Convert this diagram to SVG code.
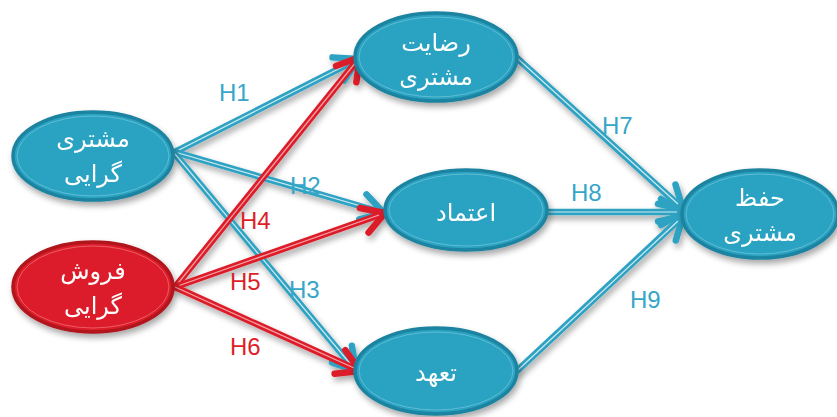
<svg xmlns="http://www.w3.org/2000/svg" width="837" height="417" viewBox="0 0 837 417">
<style>
.nb{fill:#2aa3c2;stroke:#1d84a0;stroke-width:3.5}
.nr{fill:#dc1f2b;stroke:#b0131e;stroke-width:3.5}
.in{fill:none;stroke-width:1}
.inb{stroke:#5fbcd5}
.inr{stroke:#ec5a63}
.t{font-family:"DejaVu Sans","Noto Sans",sans-serif;font-size:24px;fill:#ffffff;text-anchor:middle}
.cb{fill:none;stroke:#2fa2c2;stroke-width:6.5;stroke-linecap:round}
.cr{fill:none;stroke:#dd1f2a;stroke-width:6.5;stroke-linecap:round}
.ci{fill:none;stroke:#cfeaf2;stroke-width:1.2}
.lb{font-family:"Liberation Sans",Arial,sans-serif;font-size:24px;fill:#36a6c8}
.lr{font-family:"Liberation Sans",Arial,sans-serif;font-size:24px;fill:#dd1f2a}
</style>
<defs>
<filter id="sh" x="-20%" y="-20%" width="140%" height="150%">
<feGaussianBlur in="SourceAlpha" stdDeviation="3"/>
<feOffset dx="2" dy="4" result="b"/>
<feComponentTransfer><feFuncA type="linear" slope="0.35"/></feComponentTransfer>
<feMerge><feMergeNode/><feMergeNode in="SourceGraphic"/></feMerge>
</filter>
<marker id="ab" markerUnits="userSpaceOnUse" orient="auto" overflow="visible" refX="0" refY="0" markerWidth="30" markerHeight="30">
<path d="M-22,-13 L0,0 L-22,13" fill="none" stroke="#2fa2c2" stroke-width="6.5" stroke-linecap="round" stroke-linejoin="round"/>
</marker>
<marker id="ar" markerUnits="userSpaceOnUse" orient="auto" overflow="visible" refX="0" refY="0" markerWidth="30" markerHeight="30">
<path d="M-22,-13 L0,0 L-22,13" fill="none" stroke="#dd1f2a" stroke-width="6.5" stroke-linecap="round" stroke-linejoin="round"/>
</marker>
</defs>

<g id="connectors" filter="url(#sh)">
<path class="cb" d="M175,152 L358,59" marker-end="url(#ab)"/>
<path class="ci" d="M175,152 L352,62"/>
<path class="cb" d="M175,152 L384,213" marker-end="url(#ab)"/>
<path class="ci" d="M175,152 L378,211"/>
<path class="cb" d="M175,154 L356,371" marker-end="url(#ab)"/>
<path class="ci" d="M175,154 L352,366"/>
<path class="cb" d="M517,58 L683,209" marker-end="url(#ab)"/>
<path class="ci" d="M517,58 L678,204"/>
<path class="cb" d="M547,212 L683,212" marker-end="url(#ab)"/>
<path class="ci" d="M547,212 L677,212"/>
<path class="cb" d="M518,370 L683,216" marker-end="url(#ab)"/>
<path class="ci" d="M518,370 L678,221"/>
<path class="cr" d="M175,287 L360,57" marker-end="url(#ar)"/>
<path class="ci" d="M175,287 L356,62" style="stroke:#f3a3a8"/>
<path class="cr" d="M175,287 L385,213" marker-end="url(#ar)"/>
<path class="ci" d="M175,287 L379,215" style="stroke:#f3a3a8"/>
<path class="cr" d="M175,287 L360,371" marker-end="url(#ar)"/>
<path class="ci" d="M175,287 L354,368" style="stroke:#f3a3a8"/>
</g>

<g id="labels">
<text class="lb" x="219" y="101">H1</text>
<text class="lb" x="290" y="194">H2</text>
<text class="lb" x="289" y="298">H3</text>
<text class="lr" x="240" y="229">H4</text>
<text class="lr" x="230" y="290">H5</text>
<text class="lr" x="230" y="355">H6</text>
<text class="lb" x="602" y="134">H7</text>
<text class="lb" x="571" y="201">H8</text>
<text class="lb" x="630" y="308">H9</text>
</g>

<g id="n1" filter="url(#sh)">
<ellipse class="nb" cx="93" cy="156" rx="80" ry="44"/>
<ellipse class="in inb" cx="93" cy="156" rx="76" ry="40"/>
<text class="t" x="93" y="147">مشتری</text>
<text class="t" x="93" y="182">گرایی</text>
</g>
<g id="n2" filter="url(#sh)">
<ellipse class="nr" cx="93" cy="287" rx="80" ry="45"/>
<ellipse class="in inr" cx="93" cy="287" rx="76" ry="41"/>
<text class="t" x="93" y="279">فروش</text>
<text class="t" x="93" y="314">گرایی</text>
</g>
<g id="n3" filter="url(#sh)">
<ellipse class="nb" cx="436" cy="57" rx="81" ry="44"/>
<ellipse class="in inb" cx="436" cy="57" rx="77" ry="40"/>
<text class="t" x="436" y="51">رضایت</text>
<text class="t" x="436" y="85">مشتری</text>
</g>
<g id="n4" filter="url(#sh)">
<ellipse class="nb" cx="466" cy="210" rx="81" ry="40"/>
<ellipse class="in inb" cx="466" cy="210" rx="77" ry="36"/>
<text class="t" x="466" y="221">اعتماد</text>
</g>
<g id="n5" filter="url(#sh)">
<ellipse class="nb" cx="436" cy="371" rx="81" ry="43"/>
<ellipse class="in inb" cx="436" cy="371" rx="77" ry="39"/>
<text class="t" x="436" y="381">تعهد</text>
</g>
<g id="n6" filter="url(#sh)">
<ellipse class="nb" cx="760" cy="214" rx="78" ry="44"/>
<ellipse class="in inb" cx="760" cy="214" rx="74" ry="40"/>
<text class="t" x="760" y="206">حفظ</text>
<text class="t" x="760" y="241">مشتری</text>
</g>
</svg>
